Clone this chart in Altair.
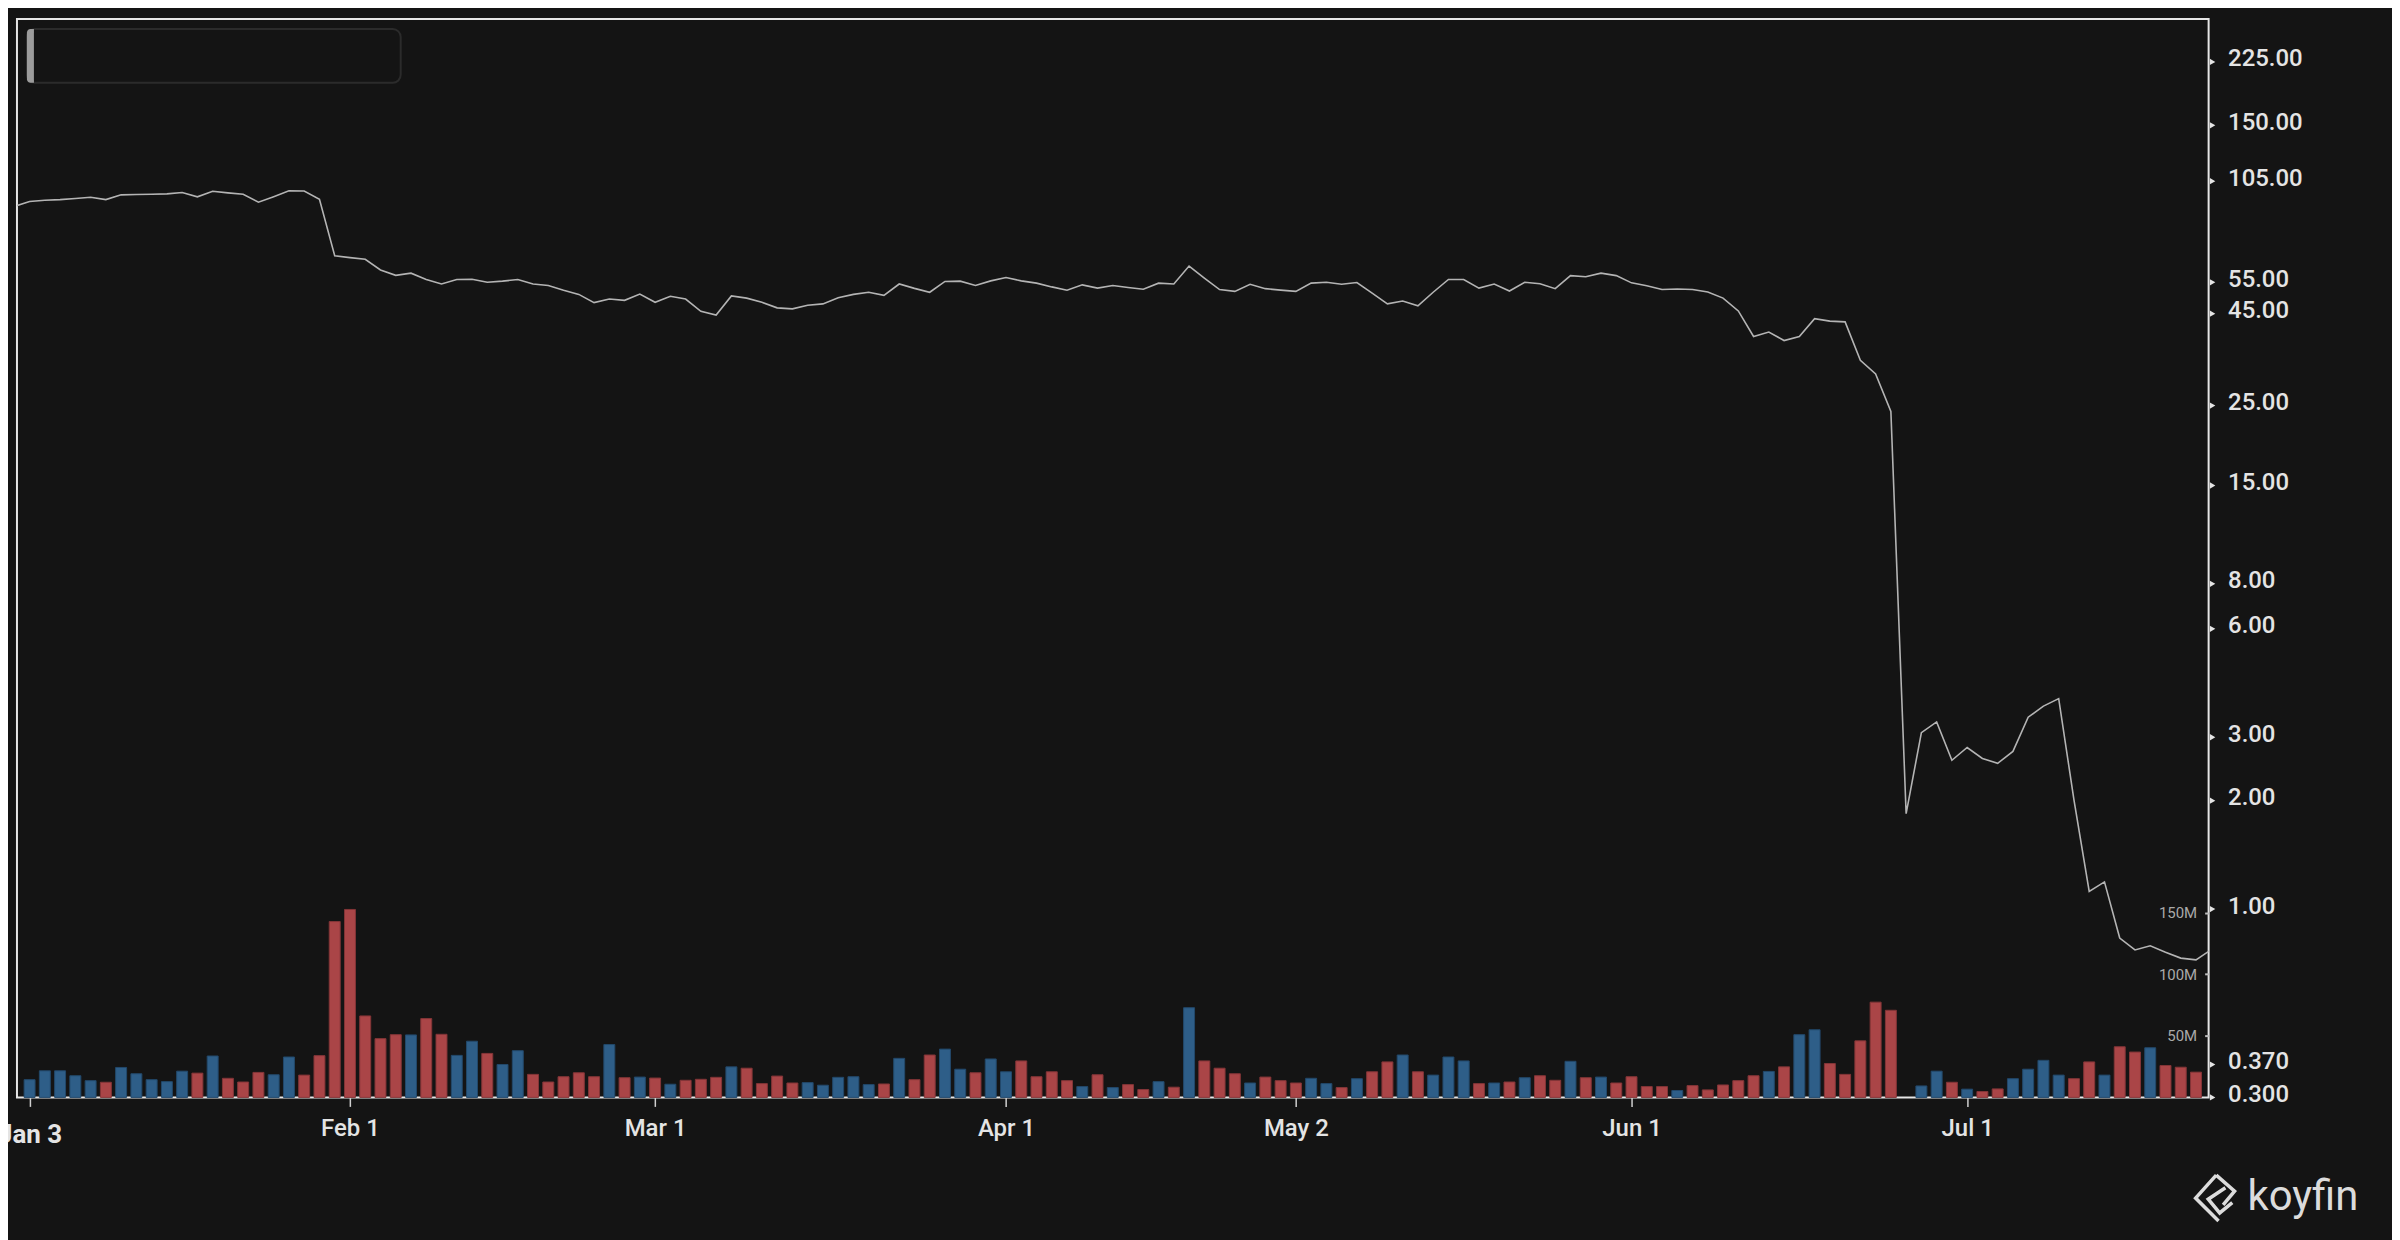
import altair as alt
import pandas as pd

# ---------------- data ----------------
# trading-day index of the first price value (the line starts one day before the first bar)
first_price_day = -1
price = [
    89.3,
    92.2, 92.9, 93.3, 94.0, 94.7, 93.3, 96.2, 96.4, 96.6, 96.8,
    97.6, 95.0, 98.4, 97.4, 96.6, 91.8, 95.1, 98.7, 98.6, 93.5,
    65.2, 64.4, 63.7, 59.5, 57.5, 58.3, 56.0, 54.4, 56.0, 56.1,
    55.0, 55.4, 56.0, 54.4, 53.9, 52.3, 50.9, 48.3, 49.4, 49.0,
    51.0, 48.4, 50.3, 49.4, 45.7, 44.6, 50.4, 49.7, 48.4, 46.7,
    46.4, 47.5, 47.9, 49.8, 50.9, 51.6, 50.6, 54.4, 52.9, 51.6,
    55.3, 55.4, 53.9, 55.5, 56.7, 55.5, 54.7, 53.4, 52.3, 54.1,
    53.0, 53.9, 53.2, 52.6, 54.7, 54.4, 61.0, 56.5, 52.5, 51.9,
    54.3, 52.8, 52.3, 51.9, 54.7, 55.0, 54.3, 54.9, 51.3, 47.9,
    48.8, 47.3, 51.6, 56.0, 56.0, 53.0, 54.4, 52.0, 55.0, 54.5,
    52.8, 57.4, 57.0, 58.3, 57.4, 54.8, 53.8, 52.5, 52.7, 52.5,
    51.7, 49.7, 45.8, 38.9, 40.0, 37.9, 38.9, 43.6, 42.9, 42.7,
    33.4, 30.6, 24.1, 1.84, 3.09, 3.31, 2.59, 2.81, 2.62, 2.54,
    2.74, 3.41, 3.66, 3.84, 2.01, 1.12, 1.19, 0.831, 0.770, 0.791,
    0.759, 0.731, 0.723, 0.772,
]

# volume in millions, one per trading day starting at index 0 (None = no bar)
volume = [
    14.4, 21.6, 21.6, 17.6, 13.6, 12.3, 24.3, 19.2, 14.4, 12.8,
    21.3, 19.7, 33.6, 15.5, 12.5, 20.3, 18.4, 32.8, 18.1, 33.9,
    142.7, 152.5, 66.1, 47.7, 50.9, 50.7, 64.0, 51.2, 34.1, 45.6,
    35.7, 26.7, 37.9, 18.7, 12.5, 16.8, 20.0, 16.8, 42.9, 16.0,
    16.5, 15.7, 10.7, 13.9, 14.7, 16.3, 24.8, 23.7, 11.2, 17.3,
    11.7, 12.0, 9.9, 16.3, 16.8, 10.4, 10.9, 31.7, 14.4, 34.4,
    39.2, 22.9, 20.0, 31.2, 20.8, 29.6, 16.8, 20.8, 13.6, 8.8,
    18.4, 8.0, 10.4, 6.4, 12.8, 8.3, 72.8, 29.6, 23.7, 19.2,
    11.7, 16.5, 13.6, 11.7, 15.5, 11.2, 8.0, 15.2, 20.8, 28.8,
    34.4, 20.8, 18.1, 32.8, 29.6, 11.2, 11.7, 12.5, 16.0, 17.6,
    13.9, 29.3, 16.0, 16.5, 11.7, 16.8, 8.8, 8.8, 5.6, 9.6,
    6.1, 10.1, 13.6, 17.6, 21.1, 24.8, 50.9, 54.9, 27.5, 18.7,
    45.9, 77.3, 70.7, None, 9.3, 21.3, 12.3, 6.7, 4.8, 6.9,
    15.2, 22.9, 30.1, 18.1, 15.2, 28.8, 18.1, 41.1, 36.8, 40.3,
    25.9, 24.5, 20.5,
]

# bar colour per day: U = up (blue), D = down (red)
direction = list(
    "UUUUUDUUUU" "UDUDDDUUDD" "DDDDDUDDUU" "DUUDDDDDUD" "UDUDDDUDDD"
    "DUUUUUDUDD" "UUDUUDDDDU" "DUDDUDUDDD" "UDDDUUDUDD" "UDUUUDUDUD"
    "DUDUDDDDUD" "DDDDUDUUDD" "DDDDUUDUDD" "UUUUDDUDDU" "DDD"
)

tick_days = [0, 21, 41, 64, 83, 105, 127]
tick_labels = ["Jan 3", "Feb 1", "Mar 1", "Apr 1", "May 2", "Jun 1", "Jul 1"]

price_ticks = [0.3, 0.37, 1, 2, 3, 6, 8, 15, 25, 45, 55, 105, 150, 225]
volume_ticks = [50, 100, 150]

# ---------------- tables ----------------
n_bars = len(volume)
bars_df = pd.DataFrame({"day": list(range(n_bars)), "vol": volume, "dir": direction[:n_bars]})
bars_df = bars_df.dropna(subset=["vol"])
line_df = pd.DataFrame({"day": list(range(first_price_day, first_price_day + len(price))), "price": price})
ptick_df = pd.DataFrame({"t": price_ticks})
one = pd.DataFrame({"k": [0]})

# ---------------- styling ----------------
W, H = 2199, 1082
BG = "#141414"
FONT = "Roboto"
BLUE, BLUE_EDGE = "#2e5e88", "#22486a"
RED, RED_EDGE = "#aa4547", "#843537"

label_map = "{" + ",".join(f"'{d}':'{l}'" for d, l in zip(tick_days, tick_labels)) + "}"

x_scale = alt.Scale(domain=[-0.5, n_bars - 0.5], nice=False, zero=False)
x_axis = alt.Axis(
    values=tick_days,
    labelExpr=f"{label_map}[''+datum.value]",
    title=None, grid=False, domain=False,
    ticks=True, tickSize=9, tickWidth=1.5, tickColor="#d0d0d0",
    labelFont=FONT, labelFontSize={"condition": {"test": "datum.value == 0", "value": 26}, "value": 24},
    labelFontWeight={"condition": {"test": "datum.value == 0", "value": "bold"}, "value": 500},
    labelPadding={"condition": {"test": "datum.value == 0", "value": 15}, "value": 10},
    labelColor="#e4e4e4", labelOverlap=False, labelFlush=False, labelBound=False,
)

price_scale = alt.Scale(type="log", domain=[0.3, 296], nice=False)
price_axis = alt.Axis(
    orient="right", values=price_ticks,
    labelExpr="datum.value < 1 ? format(datum.value, '.3f') : format(datum.value, '.2f')",
    title=None, grid=False, domain=False, ticks=False, tickSize=0,
    labelPadding=19, labelFont=FONT, labelFontSize=24, labelFontWeight=500,
    labelColor="#e4e4e4", labelOverlap=False, labelBound=False, labelFlush=False,
    labelBaseline="middle", labelOffset=-3,
)

vol_scale = alt.Scale(domain=[0, 875], nice=False, zero=True)
vol_axis = alt.Axis(
    orient="left", offset=-W, values=volume_ticks,
    labelExpr="datum.value + 'M'",
    title=None, grid=False, domain=False,
    ticks=True, tickSize=4, tickWidth=2, tickColor="#bdbdbd",
    labelPadding=8, labelFont=FONT, labelFontSize=15, labelColor="#a9a9a9",
    labelOverlap=False, labelFlush=False,
)

bars = alt.Chart(bars_df).mark_bar(size=11, strokeWidth=1).encode(
    x=alt.X("day:Q", scale=x_scale, axis=x_axis),
    y=alt.Y("vol:Q", scale=vol_scale, axis=vol_axis),
    color=alt.Color("dir:N", scale=alt.Scale(domain=["U", "D"], range=[BLUE, RED]), legend=None),
    stroke=alt.Stroke("dir:N", scale=alt.Scale(domain=["U", "D"], range=[BLUE_EDGE, RED_EDGE]), legend=None),
)

line = alt.Chart(line_df).mark_line(color="#b4b4b4", strokeWidth=1.6, clip=True).encode(
    x=alt.X("day:Q", scale=x_scale, axis=x_axis),
    y=alt.Y("price:Q", scale=price_scale, axis=price_axis),
)

tri = alt.Chart(ptick_df).mark_point(shape="triangle-right", filled=True, size=40, color="#e4e4e4", opacity=1).encode(
    x=alt.value(W + 4),
    y=alt.Y("t:Q", scale=price_scale, axis=price_axis),
)

price_layer = alt.layer(line, tri)

box = alt.Chart(one).mark_rect(cornerRadius=8, fill=BG, stroke="#2b2b2b", strokeWidth=2).encode(
    x=alt.value(10), x2=alt.value(385), y=alt.value(10), y2=alt.value(64)
)
handle = alt.Chart(one).mark_rect(
    cornerRadiusTopLeft=6, cornerRadiusBottomLeft=6, fill="#9c9c9c"
).encode(x=alt.value(10), x2=alt.value(17), y=alt.value(10), y2=alt.value(64))

logo_text = alt.Chart(one).mark_text(
    text="koyfin", font=FONT, fontSize=42, color="#dcdcdc", align="left", baseline="alphabetic"
).encode(x=alt.value(2238), y=alt.value(1195))

logo_path = (
    "M0.05,-1 L-0.85,0 L0.15,1 "
    "M0.05,-1 L0.85,-0.3 L0.35,0.3 "
    "M0.45,-0.45 L-0.3,0.05 L0.2,0.65 L0.75,0.2"
)
logo_mark = alt.Chart(one).mark_point(
    shape=logo_path, filled=False, strokeWidth=3.5, color="#dcdcdc", size=2116, opacity=1
).encode(x=alt.value(2205.5), y=alt.value(1183))

chart = (
    alt.layer(bars, price_layer, box, handle, logo_text, logo_mark)
    .resolve_scale(y="independent")
    .properties(
        width=W, height=H,
        autosize=alt.AutoSizeParams(type="none"),
        padding={"left": 9, "top": 9, "right": 184, "bottom": 141},
        background=BG,
    )
    .configure(font=FONT)
    .configure_view(stroke="#e6e6e6", strokeWidth=2)
)

chart.save("out.html", embed_options={"renderer": "svg", "actions": False})
